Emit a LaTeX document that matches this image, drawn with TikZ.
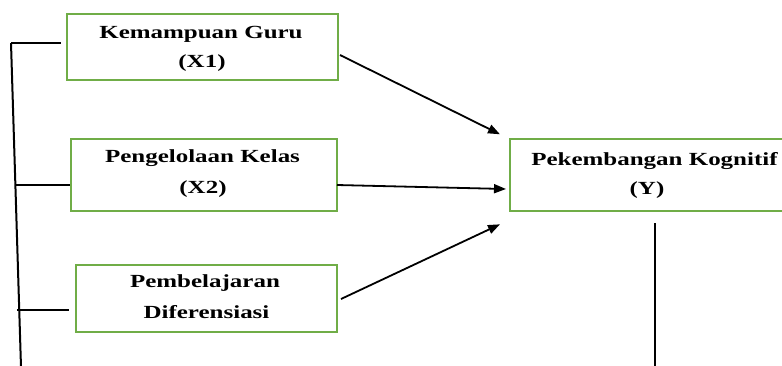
\documentclass[tikz,border=0pt]{standalone}
\usepackage{fontspec}
\setmainfont{Liberation Serif}
\newfontfamily\boxfont{Liberation Serif}[FakeStretch=1.35]
\usetikzlibrary{arrows.meta,calc}
\definecolor{boxgreen}{HTML}{70AD47}
\tikzset{
  gbox/.style={draw=boxgreen, line width=2pt, inner sep=0pt, fill=white},
  txt/.style={anchor=base, inner sep=0pt, font=\boxfont\bfseries\fontsize{18.5}{21}\selectfont},
  conn/.style={line width=2pt, black},
  arr/.style={line width=1.8pt, black, -{Triangle[length=12pt,width=9pt]}}
}
\begin{document}
\begin{tikzpicture}[x=1pt,y=-1pt]
\useasboundingbox (0,0) rectangle (782,365);
\begin{scope}
\clip (0,0) rectangle (782,365);
% boxes
\node[gbox, minimum width=271pt, minimum height=66pt] (x1) at (202.5,47) {};
\node[gbox, minimum width=266pt, minimum height=72pt] (x2) at (204,175) {};
\node[gbox, minimum width=261pt, minimum height=67pt] (x3) at (206.5,298.5) {};
\node[gbox, minimum width=290pt, minimum height=72pt] (y) at (655,175) {};
% texts
\node[txt] (t1a) at (201,38) {Kemampuan Guru};
\node[txt] (t1b) at (202,67) {(X1)};
\node[txt] (t2a) at (202.5,162.7) {Pengelolaan Kelas};
\node[txt] (t2b) at (203,193.3) {(X2)};
\node[txt] (t3a) at (205,287.7) {Pembelajaran};
\node[txt] (t3b) at (206.5,318.3) {Diferensiasi};
\node[txt] (tya) at (654.5,165) {Pekembangan Kognitif};
\node[txt] (tyb) at (647,194) {(Y)};
% coordinates
\coordinate (b1) at (11,43);
\coordinate (b2) at (15.6,185);
\coordinate (b3) at (16.8,310);
\coordinate (bend) at (21,367);
\coordinate (h1) at (61,43);
\coordinate (h3) at (69,310);
\coordinate (a1) at (500,134.3);
\coordinate (a2) at (506,189);
\coordinate (a3) at (500,224.3);
\coordinate (v1) at (655,223);
\coordinate (v2) at (655,367);
% bracket
\draw[conn] (b1) -- (bend);
\draw[conn] (b1) -- (h1);
\draw[conn] (b2) -- (x2.west |- b2);
\draw[conn] (b3) -- (h3);
% arrows
\draw[arr] ($(x1.east)+(1,8)$) -- (a1);
\draw[arr] ($(x2.east)+(-1,10)$) -- (a2);
\draw[arr] ($(x3.east)+(3,0.5)$) -- (a3);
% vertical under Y
\draw[conn, line width=2.2pt] (v1) -- (v2);
\end{scope}
\end{tikzpicture}
\end{document}
